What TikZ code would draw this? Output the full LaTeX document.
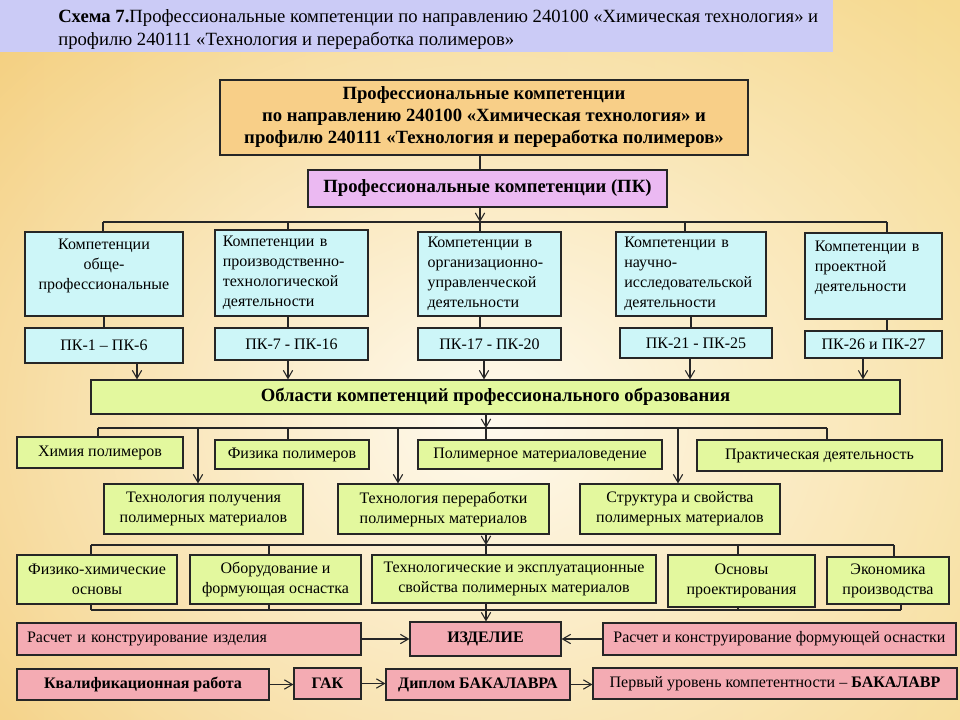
\documentclass[tikz,border=0pt]{standalone}
\usepackage{fontspec}
\setmainfont{Liberation Serif}
\usetikzlibrary{arrows.meta,fadings}
\definecolor{bgA}{HTML}{F4CF7E}
\definecolor{bgM}{HTML}{FAE8B6}
\definecolor{bgB}{HTML}{F6DA90}
\definecolor{bgC}{HTML}{FFFAEE}
\definecolor{titlebg}{HTML}{CBCBF6}
\definecolor{topbg}{HTML}{F8CF88}
\definecolor{pkbg}{HTML}{EBB9F2}
\definecolor{cyanbg}{HTML}{CDF6F8}
\definecolor{greenbg}{HTML}{E3F89E}
\definecolor{pinkbg}{HTML}{F4ABB3}
\definecolor{ln}{HTML}{262626}
\tikzfading[name=glow, inner color=transparent!0, outer color=transparent!100]
\newcommand\mybox[7]{\node[#2, minimum width={(#5-#3)*0.75pt}, minimum height={(#6-#4)*0.75pt}] (#1) at ({(#3+#5)/2},{(#4+#6)/2}) {#7};}
\tikzset{
  bx/.style={draw=ln, line width=0.9pt, inner sep=0pt, align=center, font=\fontsize{12}{15}\selectfont},
  hb/.style={bx, font=\bfseries\fontsize{14}{16.5}\selectfont},
  bbx/.style={bx, font=\bfseries\fontsize{12}{15}\selectfont},
  cy/.style={bx, fill=cyanbg},
  cyl/.style={cy, align=left, text width=#1},
  gr/.style={bx, fill=greenbg},
  pn/.style={bx, fill=pinkbg},
  pnl/.style={pn, align=left, text width=#1},
  con/.style={draw=ln, line width=0.8pt},
  arr/.style={con, -{Straight Barb[length=6pt,width=7pt]}},
  ttl/.style={anchor=base west, inner sep=0pt, font=\fontsize{14}{17}\selectfont},
}
\begin{document}
\begin{tikzpicture}[x=0.75pt,y=-0.75pt]
\useasboundingbox (0,0) rectangle (960,720);
% background
\begin{scope}
\clip (0,0) rectangle (960,720);
\shade[left color=bgA, middle color=bgM, right color=bgB] (0,0) rectangle (960,720);
\fill[bgC, path fading=glow] (490,420) ellipse (520pt and 420pt);
\end{scope}
% title band
\fill[titlebg] (0,0) rectangle (833,52);
\node[ttl] (tl1) at (58,23) {\textbf{Схема 7.}Профессиональные компетенции по направлению 240100 «Химическая технология» и};
\node[ttl] (tl2) at (58,46) {профилю 240111 «Технология и переработка полимеров»};

% top boxes
\mybox{top}{hb, fill=topbg}{220}{80}{748}{155}{Профессиональные компетенции\\по направлению 240100 «Химическая технология» и\\профилю 240111 «Технология и переработка полимеров»}
\mybox{pkall}{hb, fill=pkbg}{308}{170}{667}{207}{Профессиональные компетенции (ПК)}

% competence boxes
\mybox{c1}{cy}{25}{232}{183}{316}{Компетенции\\обще-\\профессиональные\\\mbox{}}
\mybox{c2}{cyl=103pt}{215}{230}{368}{316}{Компетенции в\\производственно-\\технологической\\деятельности}
\mybox{c3}{cyl=93pt}{418}{232}{561}{316}{Компетенции в\\организационно-\\управленческой\\деятельности}
\mybox{c4}{cyl=100pt}{616}{232}{766}{316}{Компетенции в\\научно-\\исследовательской\\деятельности}
\mybox{c5}{cyl=88pt}{805}{233}{942}{319}{Компетенции в\\проектной\\деятельности\\\mbox{}}

\mybox{p1}{cy}{25}{328}{183}{363}{ПК-1 – ПК-6}
\mybox{p2}{cy}{215}{328}{368}{360}{ПК-7 - ПК-16}
\mybox{p3}{cy}{418}{328}{561}{360}{ПК-17 - ПК-20}
\mybox{p4}{cy}{620}{328}{772}{358}{ПК-21 - ПК-25}
\mybox{p5}{cy}{805}{331}{942}{358}{ПК-26 и ПК-27}

\mybox{obl}{hb, fill=greenbg}{91}{380}{900}{414}{Области компетенций профессионального образования}

% row 2
\mybox{g1}{gr}{17}{437}{183}{468}{Химия полимеров}
\mybox{g2}{gr}{215}{440}{369}{469}{Физика полимеров}
\mybox{g3}{gr}{418}{440}{662}{469}{Полимерное материаловедение}
\mybox{g4}{gr}{697}{440}{942}{471}{Практическая деятельность}
% row 3
\mybox{t1}{gr}{104}{484}{303}{534}{Технология получения\\полимерных материалов}
\mybox{t2}{gr}{338}{484}{549}{534}{Технология переработки\\полимерных материалов}
\mybox{t3}{gr}{580}{484}{780}{534}{Структура и свойства\\полимерных материалов}
% row 4
\mybox{f1}{gr}{17}{555}{177}{604}{Физико-химические\\основы}
\mybox{f2}{gr}{190}{555}{361}{604}{Оборудование и\\формующая оснастка}
\mybox{f3}{gr}{372}{555}{656}{603}{Технологические и эксплуатационные\\свойства полимерных материалов}
\mybox{f4}{gr}{668}{555}{815}{607}{Основы\\проектирования}
\mybox{f5}{gr}{827}{557}{949}{604}{Экономика\\производства}
% row 5
\mybox{r1}{pnl=243pt}{17}{623}{361}{655}{Расчет и конструирование изделия}
\mybox{izd}{bbx, fill=pinkbg}{410}{622}{561}{656}{ИЗДЕЛИЕ}
\mybox{r3}{pn}{603}{623}{956}{655}{Расчет и конструирование формующей оснастки}
% row 6
\mybox{kv}{bbx, fill=pinkbg}{17}{669}{269}{700}{Квалификационная работа}
\mybox{gak}{bbx, fill=pinkbg}{294}{668}{361}{699}{ГАК}
\mybox{dip}{bbx, fill=pinkbg}{386}{669}{570}{700}{Диплом БАКАЛАВРА}
\mybox{fst}{pn}{593}{668}{957}{699}{Первый уровень компетентности – \textbf{БАКАЛАВР}}

% ---- connectors ----
\coordinate (k1) at (480,222);
\coordinate (b1L) at (103,222);
\coordinate (b1b) at (288,222);
\coordinate (b1d) at (685,222);
\coordinate (b1R) at (887,222);
\draw[con] (top.south -| k1) -- (pkall.north -| k1);
\draw[arr] (pkall.south -| k1) -- (k1);
\draw[con] (b1L) -- (b1R);
\draw[con] (b1L) -- (b1L |- c1.north);
\draw[con] (b1b) -- (b1b |- c2.north);
\draw[con] (k1) -- (k1 |- c3.north);
\draw[con] (b1d) -- (b1d |- c4.north);
\draw[con] (b1R) -- (b1R |- c5.north);
% competence -> PK
\draw[con] (c1.south) -- (c1.south |- p1.north);
\draw[con] (c2.south -| b1b) -- (b1b |- p2.north);
\draw[con] (c3.south -| k1) -- (k1 |- p3.north);
\draw[con] (c4.south) -- (c4.south |- p4.north);
\draw[con] (c5.south -| b1R) -- (b1R |- p5.north);
% PK -> areas
\coordinate (xa) at (137,0);
\coordinate (xb) at (288,0);
\coordinate (xc) at (484,0);
\coordinate (xd) at (690,0);
\coordinate (xe) at (863,0);
\draw[arr] (p1.south -| xa) -- (obl.north -| xa);
\draw[arr] (p2.south -| xb) -- (obl.north -| xb);
\draw[arr] (p3.south -| xc) -- (obl.north -| xc);
\draw[arr] (p4.south -| xd) -- (obl.north -| xd);
\draw[arr] (p5.south -| xe) -- (obl.north -| xe);
% areas -> row 2/3
\coordinate (b2) at (486,428);
\coordinate (b2L) at (98,428);
\coordinate (b2R) at (827,428);
\coordinate (b2a) at (198,428);
\coordinate (b2b) at (288,428);
\coordinate (b2c) at (398,428);
\coordinate (b2d) at (678,428);
\draw[arr] (obl.south -| b2) -- (b2);
\draw[con] (b2L) -- (b2R);
\draw[con] (b2L) -- (b2L |- g1.north);
\draw[con] (b2b) -- (b2b |- g2.north);
\draw[con] (b2) -- (b2 |- g3.north);
\draw[con] (b2R) -- (b2R |- g4.north);
\draw[arr] (b2a) -- (b2a |- t1.north);
\draw[arr] (b2c) -- (b2c |- t2.north);
\draw[arr] (b2d) -- (b2d |- t3.north);
% row 3 -> row 4
\coordinate (b3) at (486,545);
\coordinate (b3L) at (91,545);
\coordinate (b3b) at (269,545);
\coordinate (b3d) at (738,545);
\coordinate (b3R) at (894,545);
\draw[arr] (t2.south -| b3) -- (b3);
\draw[con] (b3L) -- (b3R);
\draw[con] (b3L) -- (b3L |- f1.north);
\draw[con] (b3b) -- (b3b |- f2.north);
\draw[con] (b3) -- (b3 |- f3.north);
\draw[con] (b3d) -- (b3d |- f4.north);
\draw[con] (b3R) -- (b3R |- f5.north);
% row 4 -> product
\coordinate (b4) at (486,610);
\coordinate (b4L) at (91,610);
\coordinate (b4b) at (269,610);
\coordinate (b4d) at (738,610);
\coordinate (b4R) at (901,610);
\draw[con] (b4L) -- (b4R);
\draw[con] (b4L) -- (b4L |- f1.south);
\draw[con] (b4b) -- (b4b |- f2.south);
\draw[con] (b4d) -- (b4d |- f4.south);
\draw[con] (b4R) -- (b4R |- f5.south);
\draw[arr] (f3.south -| b4) -- (izd.north -| b4);
% row 5 / 6
\draw[arr] (r1.east) -- (r1.east -| izd.west);
\draw[arr] (r3.west) -- (r3.west -| izd.east);
\draw[arr] (kv.east) -- (kv.east -| gak.west);
\draw[arr] (gak.east) -- (gak.east -| dip.west);
\draw[arr] (dip.east) -- (dip.east -| fst.west);
\end{tikzpicture}
\end{document}
